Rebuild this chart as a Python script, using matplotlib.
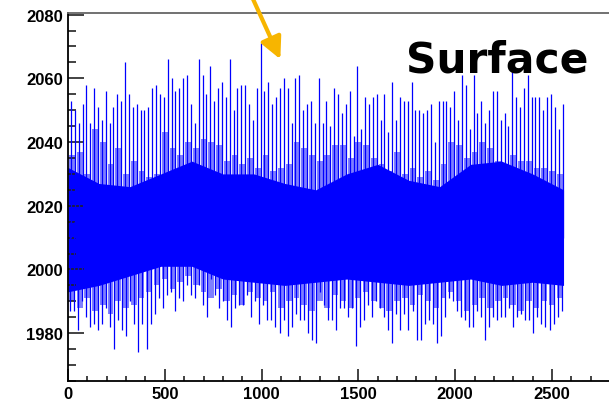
import numpy as np
import matplotlib
matplotlib.use('Agg')
import matplotlib.pyplot as plt

# spike maxima, one every 20 samples
spike_top = [2053, 2050, 2046, 2052, 2058, 2046, 2057, 2051, 2047, 2056, 2046, 2051,
             2055, 2053, 2065, 2055, 2051, 2052, 2050, 2050, 2051, 2057, 2058, 2055,
             2054, 2066, 2060, 2056, 2057, 2060, 2061, 2052, 2046, 2066, 2061, 2055,
             2064, 2053, 2057, 2059, 2054, 2066,
             2050, 2057, 2058, 2058, 2052, 2047, 2057, 2071, 2056, 2059, 2052, 2054,
             2057, 2060, 2057, 2046, 2060, 2061, 2050, 2052, 2053, 2046, 2060, 2046,
             2053, 2045, 2057, 2055, 2049, 2052, 2056, 2042, 2064, 2044, 2054, 2052,
             2054, 2055, 2047, 2055, 2043, 2059, 2047,
             2054, 2053, 2053, 2059, 2050, 2050, 2049, 2050, 2052, 2040, 2053, 2053,
             2053, 2051, 2056, 2047, 2061, 2058, 2044, 2061, 2049, 2053, 2046, 2050,
             2056, 2056, 2047, 2049, 2045, 2062, 2054, 2051, 2057, 2061, 2054, 2054,
             2054, 2050, 2054, 2055, 2051, 2044, 2052]

# spike minima
spike_bot = [1987, 1987, 1981, 1990, 1985, 1982, 1983, 1981, 1983, 1988, 1982, 1975,
             1984, 1981, 1979, 1990, 1983, 1974, 1983, 1975, 1983, 1986, 1991, 1988,
             1992, 1993, 1987, 1991, 1990, 1995, 1992, 1991, 1995, 1989, 1985, 1997,
             1992, 1988, 1990, 1984,
             1982, 1988, 1989, 1989, 1992, 1985, 1990, 1983, 1989, 1984, 1984, 1982,
             1980, 1984, 1979, 1982, 1986, 1984, 1984, 1980, 1978, 1977, 1993, 1989,
             1984, 1984, 1981, 1988, 1988, 1985, 1988, 1976, 1982, 1984, 1989, 1985,
             1990, 1988, 1985, 1981, 1977, 1986, 1981,
             1986, 1981, 1987, 1978, 1978, 1983, 1984, 1983, 1977, 1979, 1985, 1991,
             1990, 1987, 1985, 1984, 1982, 1982, 1987, 1985, 1978, 1982, 1985, 1984,
             1985, 1985, 1988, 1982, 1985, 1986, 1984, 1984, 1980, 1985, 1983, 1982,
             1981, 1983, 1985, 1987]

# ragged envelope of the busy part, every 40 samples
env_hi = [2036, 2037, 2030, 2044, 2040, 2033, 2038, 2030, 2034, 2031,
          2029, 2030, 2043, 2038, 2036, 2040, 2038, 2041, 2040, 2039,
          2034, 2036, 2033, 2035, 2032, 2036, 2031, 2032, 2033, 2040,
          2038, 2036, 2034, 2036, 2039, 2039, 2035, 2040, 2039, 2035,
          2033, 2031, 2037, 2030, 2032, 2029, 2031, 2028, 2033, 2040,
          2039, 2035, 2037, 2040, 2038, 2034, 2033, 2036, 2034, 2034,
          2032, 2032, 2031, 2030]
env_lo = [1990, 1988, 1991, 1987, 1989, 1986, 1990, 1988, 1989, 1991,
          1993, 1995, 1997, 1994, 1996, 1998, 1995, 1993, 1991, 1994,
          1990, 1992, 1989, 1993, 1991, 1990, 1993, 1988, 1990, 1991,
          1989, 1987, 1990, 1988, 1992, 1990, 1988, 1991, 1993, 1990,
          1988, 1987, 1990, 1991, 1989, 1992, 1990, 1988, 1991, 1993,
          1990, 1987, 1989, 1991, 1988, 1990, 1991, 1989, 1987, 1990,
          1988, 1990, 1989, 1991]

# solid core of the waveform, every 160 samples
band_x = [0, 160, 320, 480, 640, 800, 960, 1120, 1280, 1440, 1600, 1760, 1920,
          2080, 2240, 2400, 2560]
band_hi = [2032, 2027, 2026, 2030, 2034, 2030, 2030, 2027, 2025, 2030, 2033, 2028,
           2026, 2033, 2034, 2030, 2025]
band_lo = [1993, 1995, 1998, 2001, 2001, 1997, 1996, 1995, 1996, 1997, 1996, 1995,
           1996, 1997, 1995, 1996, 1995]

x_top = np.arange(len(spike_top)) * 20 + 15
x_bot = np.linspace(10, 2550, len(spike_bot))
x_env = np.arange(len(env_hi)) * 40 + 20


def segments(x, y0, y1):
    # one vertical stroke per sample, separated by NaN
    n = len(x)
    xs = np.column_stack([x, x, np.full(n, np.nan)]).ravel()
    ys = np.column_stack([np.broadcast_to(y0, n), y1, np.full(n, np.nan)]).ravel()
    return xs, ys


fig = plt.figure(figsize=(6.09, 4.02), dpi=100)
ax = fig.add_axes([68 / 609, 20 / 402, 0.89, 368 / 402])

ax.bar(x_env, np.array(env_hi) - np.array(env_lo), bottom=env_lo, width=30,
       color='#7f7fff', lw=0)
ax.fill_between(band_x, band_lo, band_hi, color='#0000ff', lw=0)
xs, ys = segments(x_top, 2010, spike_top)
ax.plot(xs, ys, color='#0000ff', lw=0.9, solid_capstyle='butt')
xs, ys = segments(x_bot, 2015, spike_bot)
ax.plot(xs, ys, color='#0000ff', lw=0.9, solid_capstyle='butt')

ax.set_xlim(0, 2800)
ax.set_ylim(1965, 2080.5)
ax.set_xticks([0, 500, 1000, 1500, 2000, 2500])
ax.set_xticks(np.arange(0, 2801, 100), minor=True)
ax.set_yticks([1980, 2000, 2020, 2040, 2060, 2080])
ax.set_yticks(np.arange(1965, 2081, 5), minor=True)
ax.tick_params(which='both', direction='in', top=False, right=False, width=1.2, color='#222222')
ax.tick_params(axis='y', which='major', length=11.5, pad=3.5)
ax.tick_params(axis='y', which='minor', length=5.8)
ax.tick_params(axis='x', which='major', length=8.4, pad=3.5)
ax.tick_params(axis='x', which='minor', length=3.6)
for lab in ax.get_xticklabels() + ax.get_yticklabels():
    lab.set_fontfamily('Liberation Sans')
    lab.set_fontweight('bold')
    lab.set_fontsize(12)
ax.spines['right'].set_visible(False)
ax.spines['top'].set_color('#666666')
for s in ['left', 'bottom', 'top']:
    ax.spines[s].set_linewidth(1.3)

ax.text(2215, 2066, 'Surface', ha='center', va='center', fontsize=30.5,
        fontweight='bold', family='DejaVu Sans')

ax.annotate('', xy=(1097, 2066), xytext=(951, 2085.5),
            arrowprops=dict(arrowstyle='-|>,head_length=1.3,head_width=0.65',
                            color='#f7b500', lw=3, shrinkA=0, shrinkB=0),
            annotation_clip=False)

fig.savefig('out.png', dpi=100)
